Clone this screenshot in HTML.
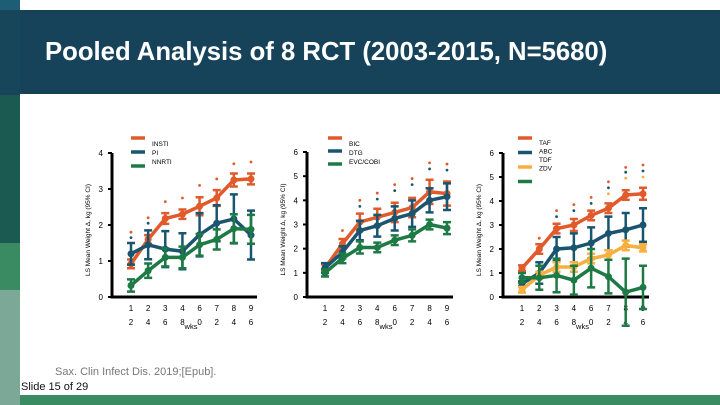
<!DOCTYPE html>
<html><head><meta charset="utf-8"><style>
body{margin:0;width:720px;height:405px;overflow:hidden;background:#fff;font-family:"Liberation Sans",sans-serif;position:relative}
div{position:absolute}
</style></head><body>
<div style="left:0;top:0;width:20px;height:10px;background:#1d5d75"></div>
<div style="left:0;top:10px;width:20px;height:85px;background:#17455a"></div>
<div style="left:0;top:95px;width:20px;height:148px;background:#1b5a50"></div>
<div style="left:0;top:243px;width:20px;height:47px;background:#3a8a62"></div>
<div style="left:0;top:290px;width:20px;height:115px;background:#7ca898"></div>
<div style="left:20px;top:10px;width:700px;height:84px;background:#17435a"></div>
<div style="left:45px;top:38px;color:#fff;font-weight:bold;font-size:25.7px;white-space:nowrap">Pooled Analysis of 8 RCT (2003-2015, N=5680)</div>
<div style="left:20px;top:395px;width:700px;height:10px;background:#3a8a62"></div>
<div style="left:55px;top:366px;color:#777;font-size:11px">Sax. Clin Infect Dis. 2019;[Epub].</div>
<div style="left:21px;top:381px;color:#111;font-size:11px">Slide 15 of 29</div>
<svg id="svg" width="720" height="405" style="position:absolute;left:0;top:0"></svg>
<script>
const weeks1=["1","2","3","4","6","7","8","9"];
const weeks2=["2","4","6","8","0","2","4","6"];
// chart 1
const c1INSTI=[0.92,1.6,2.18,2.3,2.52,2.75,3.25,3.28];
const c1INSTIerr=[0.12,0.12,0.15,0.13,0.25,0.22,0.18,0.15];
const c1PI=[1.2,1.45,1.33,1.27,1.73,2.05,2.17,1.72];
const c1PIerr=[0.3,0.4,0.5,0.5,0.6,0.5,0.68,0.68];
const c1NNRTI=[0.32,0.73,1.1,1.1,1.45,1.6,1.9,1.88];
const c1NNRTIerr=[0.17,0.2,0.25,0.3,0.3,0.28,0.4,0.4];
const c1Ticks=[0,1,2,3,4];
const c1Sig=[[1.8,1.65],[2.2,2.05],[2.65],[2.75],[3.1],[3.28],[3.7],[3.75]];
// chart 2
const c2BIC=[1.2,2.2,3.1,3.3,3.5,3.7,4.35,4.28];
const c2BICerr=[0.15,0.2,0.35,0.35,0.4,0.4,0.5,0.5];
const c2DTG=[1.2,1.85,2.75,2.95,3.25,3.45,4.0,4.15];
const c2DTGerr=[0.2,0.25,0.4,0.45,0.5,0.55,0.5,0.55];
const c2EVG=[1.0,1.6,2.05,2.05,2.35,2.55,3.0,2.85];
const c2EVGerr=[0.15,0.2,0.25,0.2,0.2,0.25,0.2,0.25];
const c2Ticks=[0,1,2,3,4,5,6];
const c2Sig=[[],[2.75],[4.0,3.75],[4.3,4.05],[4.65,4.4],[4.9,4.65],[5.55,5.3],[5.5,5.25]];
// chart 3
const c3TAF=[1.2,2.0,2.85,3.0,3.4,3.7,4.25,4.3];
const c3TAFerr=[0.12,0.2,0.2,0.25,0.2,0.2,0.2,0.25];
const c3ABC=[0.55,1.0,2.0,2.05,2.25,2.65,2.8,3.0];
const c3ABCerr=[0.1,0.45,0.5,0.6,0.65,0.7,0.7,0.7];
const c3TDF=[0.3,0.9,1.25,1.25,1.6,1.75,2.15,2.05];
const c3TDFerr=[0.12,0.15,0.2,0.2,0.2,0.2,0.2,0.15];
const c3ZDV=[0.8,0.8,0.9,0.7,1.2,0.85,0.2,0.4];
const c3ZDVerr=[0.2,0.5,0.7,0.6,0.8,0.7,1.4,0.9];
const c3Ticks=[0,1,2,3,4,5,6];
const c3Sig=[[],[2.45],[3.6,3.35],[3.85,3.6],[4.15,3.9],[4.8,4.55,4.3],[5.4,5.2,4.95],[5.5,5.25,5.0]];

const OR="#e05a2b",BL="#1a5570",GR="#1e7a45",YE="#f5b040";
const sigColors=[OR,BL,YE];
const svg=document.getElementById('svg');
const NS="http://www.w3.org/2000/svg";
function mk(tag,a,parent){const e=document.createElementNS(NS,tag);for(const k in a)e.setAttribute(k,a[k]);(parent||svg).appendChild(e);return e;}

function chart(cfg){
  const g=mk('g',{});
  
  
  const ymax=cfg.ticks[cfg.ticks.length-1];
  const y=v=>cfg.y0-(v/ymax)*(cfg.y0-cfg.ytop);
  const x=i=>cfg.x1+i*(cfg.x9-cfg.x1)/7;
  const ax=mk('path',{d:`M${cfg.ax},${cfg.ytop} V${cfg.y0} H${cfg.x9+6}`,stroke:"#000","stroke-width":3,fill:"none"},g);
  
  
  cfg.ticks.forEach(t=>{
    mk('line',{x1:cfg.ax-4,x2:cfg.ax,y1:y(t),y2:y(t),stroke:"#000","stroke-width":2},g);
    const tx=mk('text',{x:cfg.ax-9,y:y(t)+3,"font-size":8,"text-anchor":"end",fill:"#000"},g);tx.textContent=t;
    
    
  });
  weeks1.forEach((w,i)=>{
    const a=mk('text',{x:x(i),y:311,"font-size":8,"text-anchor":"middle"},g);a.textContent=w;
    
    
    const b=mk('text',{x:x(i),y:325,"font-size":8,"text-anchor":"middle"},g);b.textContent=weeks2[i];
    
    
  });
  const wl=mk('text',{x:(x(3)+x(4))/2,y:329,"font-size":7.5,"text-anchor":"middle"},g);wl.textContent="wks";
  
  
  const yl=mk('text',{transform:`translate(${cfg.ax-22},${(cfg.y0+cfg.ytop)/2+5}) rotate(-90)`,"font-size":6.5,"text-anchor":"middle"},g);
  yl.textContent="LS Mean Weight Δ, kg (95% CI)";
  
  
  cfg.sig.forEach((arr,i)=>arr.forEach((v,k)=>{
    const d=mk('circle',{cx:x(i),cy:y(v),r:1.4,fill:sigColors[k]},g);
    
    
  }));
  cfg.series.forEach(s=>{
    const sg=mk('g',{},g);
    
    
    s.v.forEach((v,i)=>{
      const e=s.e[i];
      mk('path',{d:`M${x(i)},${y(v-e)}V${y(v+e)}M${x(i)-4},${y(v-e)}h8M${x(i)-4},${y(v+e)}h8`,stroke:s.c,"stroke-width":2.5,fill:"none"},sg);
    });
    mk('polyline',{points:s.v.map((v,i)=>x(i)+','+y(v)).join(' '),stroke:s.c,"stroke-width":3.5,fill:"none"},sg);
    s.v.forEach((v,i)=>mk('circle',{cx:x(i),cy:y(v),r:3.5,fill:s.c},sg));
  });
  cfg.series.forEach((s,k)=>{
    const ly=cfg.ly+k*cfg.lsp;
    const l=mk('line',{x1:cfg.lx,x2:cfg.lx+14,y1:ly,y2:ly,stroke:s.c,"stroke-width":3.5},g);
    
    
  });
  cfg.labels.forEach((lab,k)=>{
    const t=mk('text',{x:cfg.lx+21,y:cfg.ty+k*cfg.tsp,"font-size":6.5},g);t.textContent=lab;
    
    
  });
}
chart({name:'chart-class',ax:112,y0:297,ytop:153,x1:131,x9:251,ticks:c1Ticks,sig:c1Sig,lx:131,ly:138,lsp:14,ty:146,tsp:9,labels:["INSTI","PI","NNRTI"],
 series:[{label:"INSTI",v:c1INSTI,e:c1INSTIerr,c:OR},{label:"PI",v:c1PI,e:c1PIerr,c:BL},{label:"NNRTI",v:c1NNRTI,e:c1NNRTIerr,c:GR}]});
chart({name:'chart-insti',ax:307,y0:297,ytop:152,x1:325,x9:447,ticks:c2Ticks,sig:c2Sig,lx:328,ly:138,lsp:13,ty:146,tsp:9,labels:["BIC","DTG","EVC/COBI"],
 series:[{label:"BIC",v:c2BIC,e:c2BICerr,c:OR},{label:"DTG",v:c2DTG,e:c2DTGerr,c:BL},{label:"EVC/COBI",v:c2EVG,e:c2EVGerr,c:GR}]});
chart({name:'chart-nrti',ax:503,y0:297,ytop:153,x1:522,x9:643,ticks:c3Ticks,sig:c3Sig,lx:518,ly:138,lsp:14.5,ty:145,tsp:8.5,labels:["TAF","ABC","TDF","ZDV"],
 series:[{label:"TAF",v:c3TAF,e:c3TAFerr,c:OR},{label:"ABC",v:c3ABC,e:c3ABCerr,c:BL},{label:"ZDV",v:c3TDF,e:c3TDFerr,c:YE},{label:"TDF",v:c3ZDV,e:c3ZDVerr,c:GR}]});
</script>
</body></html>
